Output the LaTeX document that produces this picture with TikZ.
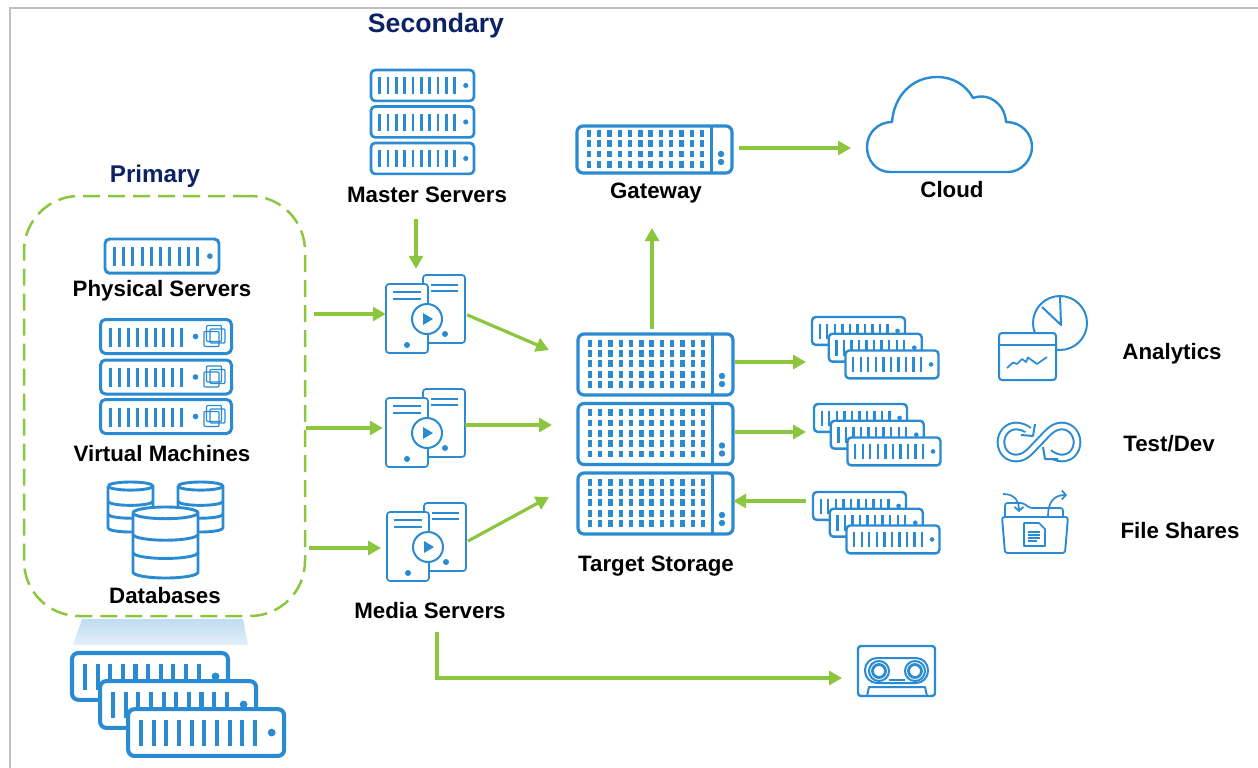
\documentclass[tikz,border=0pt]{standalone}
\usepackage{fontspec}
\setmainfont{Liberation Sans}
\usetikzlibrary{arrows.meta}
\definecolor{iconblue}{HTML}{2A8BD2}
\definecolor{flowgreen}{HTML}{8CC63F}
\definecolor{sitenavy}{HTML}{0B2265}
\definecolor{framegray}{HTML}{BFBFBF}
\tikzset{
  iconline/.style={draw=iconblue, line join=round},
  itemlabel/.style={font=\bfseries\fontsize{22.3}{24}\selectfont, anchor=base, inner sep=0pt},
  sitelabel/.style={font=\bfseries\fontsize{#1}{28}\selectfont, text=sitenavy, anchor=base, inner sep=0pt},
  iconspot/.style={inner sep=0pt},
  flowline/.style={draw=flowgreen, line width=3.2pt, -{Triangle[length=13pt,width=14pt]}},
  pics/rackunit/.style={code={
    \pgfmathsetmacro\ru{#1/100}
    \draw [iconline, fill=white, line width=\ru*2.6pt, rounded corners=\ru*4pt] (0,0) rectangle ({100*\ru},{30*\ru});
    \foreach \barno in {0,...,9}
      \draw [iconline, line width=\ru*2.6pt] ({\ru*(8.3+8.1*\barno)},{\ru*7}) -- ++(0,{\ru*16.5});
    \fill [iconblue] ({\ru*92},{\ru*15}) circle [radius=\ru*2.5pt];
  }},
  pics/rackstack/.style={code={
    \pic at (0,0) {rackunit=#1};
    \pic at ({.18*#1},{.18*#1}) {rackunit=#1};
    \pic at ({.36*#1},{.36*#1}) {rackunit=#1};
  }},
  pics/vmunit/.style={code={
    \draw [iconline, fill=white, line width=3pt, rounded corners=5pt] (0,0) rectangle (131,34);
    \foreach \barno in {0,...,8}
      \draw [iconline, line width=3pt] ({10+8.9*\barno},8) -- ++(0,19);
    \fill [iconblue] (95,17) circle [radius=2.8pt];
    \draw [iconline, line width=1.2pt, rounded corners=1pt] (106,6) rectangle (121,22);
    \draw [iconline, line width=1.2pt, rounded corners=1pt] (103.5,12) rectangle (118.5,27);
    \draw [iconline, line width=1.2pt, rounded corners=1pt] (109.5,9.5) rectangle (124.5,23.5);
  }},
  pics/storeunit/.style 2 args={code={
    \draw [iconline, fill=white, line width=3.2pt, rounded corners=6pt] (0,0) rectangle (155,#1);
    \draw [iconline, line width=3pt] (134.5,0) -- (134.5,#1);
    \pgfmathsetmacro\gridtop{#1/2-(#2-1)*5.15-0.7}
    \foreach \col in {0,...,11}
      \foreach \row in {1,...,#2}
        \fill [iconblue] ({12+10.27*\col-2.2},{\gridtop+10.3*(\row-1)-3.4}) rectangle ++(4.4,6.8);
    \fill [iconblue] (144,{#1-19}) circle [radius=3.2pt];
    \fill [iconblue] (144,{#1-11}) circle [radius=3.2pt];
  }},
  pics/playpages/.style={code={
    \draw [iconline, fill=white, line width=1.7pt, rounded corners=3pt] (37,-9) rectangle (79,59);
    \draw [iconline, line width=1.7pt] (45,1) -- (72,1) (45,7) -- (72,7);
    \fill [iconblue] (59,50) circle [radius=3pt];
    \draw [iconline, fill=white, line width=1.7pt, rounded corners=3pt] (0,0) rectangle (42,69);
    \draw [iconline, line width=1.7pt] (7,8) -- (35,8) (7,15) -- (35,15);
    \fill [iconblue] (21,61) circle [radius=3pt];
    \draw [iconline, fill=white, line width=2pt] (41,35) circle [radius=15pt];
    \fill [iconblue] (37,29) -- (37,41) -- (47,35) -- cycle;
  }},
  pics/dbcan/.style 2 args={code={
    \pgfmathsetmacro\canry{.09*#1}
    \pgfmathsetmacro\canrx{#1/2}
    \draw [iconline, fill=white, line width=2.9pt] (0,\canry) -- (0,{#2-\canry}) arc [start angle=180, end angle=360, x radius=\canrx pt, y radius=\canry pt] -- (#1,\canry) arc [start angle=0, end angle=180, x radius=\canrx pt, y radius=\canry pt];
    \draw [iconline, line width=2.9pt] (0,\canry) arc [start angle=180, end angle=360, x radius=\canrx pt, y radius=\canry pt];
    \draw [iconline, line width=2.9pt] (0,{.42*(#2-\canry)}) arc [start angle=180, end angle=360, x radius=\canrx pt, y radius=\canry pt];
    \draw [iconline, line width=2.9pt] (0,{.7*(#2-\canry)}) arc [start angle=180, end angle=360, x radius=\canrx pt, y radius=\canry pt];
  }}
}
\begin{document}
\begin{tikzpicture}[x=1pt,y=-1pt]
\useasboundingbox (0,0) rectangle (1258,768);
\draw [framegray, line width=2pt] (10,768) -- (10,8) -- (1258,8);

\node (primary) [draw=flowgreen, line width=2.5pt, dash pattern=on 17pt off 8pt, rounded corners=55pt, minimum width=281pt, minimum height=420pt] at (164.5,406) {};
\shade [top color=iconblue!30, bottom color=iconblue!13] (82,619) -- (243,619) -- (248,645) -- (73,645) -- cycle;

\node (primarylabel) [sitelabel=24.2] at (155,182) {Primary};
\node (secondarylabel) [sitelabel=26.6] at (436,33) {Secondary};

\pic at (105,239) {rackunit=114};
\node (physicallabel) [itemlabel] at (162,296) {Physical Servers};
\pic at (100.5,319.5) {vmunit};
\pic at (100.5,360) {vmunit};
\pic at (100.5,399.5) {vmunit};
\node (virtuallabel) [itemlabel] at (162,461) {Virtual Machines};
\pic at (108,482) {dbcan={45}{50}};
\pic at (178,482) {dbcan={45}{50}};
\pic at (133,507) {dbcan={65}{71}};
\node (databaselabel) [itemlabel] at (165,603) {Databases};
\pic at (72,653) {rackstack=156};

\pic at (371,70) {rackunit=103};
\pic at (371,106.5) {rackunit=103};
\pic at (371,143) {rackunit=103};
\node (masterlabel) [itemlabel] at (427,202) {Master Servers};

\node (mediaA) [iconspot, minimum width=79pt, minimum height=78pt] at (425.5,314) {};
\node (mediaB) [iconspot, minimum width=79pt, minimum height=78pt] at (425.5,428) {};
\node (mediaC) [iconspot, minimum width=79pt, minimum height=78pt] at (426.5,542) {};
\pic at (386,284) {playpages};
\pic at (386,398) {playpages};
\pic at (387,512) {playpages};
\node (medialabel) [itemlabel] at (430,618) {Media Servers};

\node (gateway) [iconspot, minimum width=155pt, minimum height=47pt] at (654.5,149.5) {};
\pic at (577,126) {storeunit={47}{4}};
\node (gatewaylabel) [itemlabel] at (656,198) {Gateway};

\node (storeA) [iconspot, minimum width=155pt, minimum height=61pt] at (655.5,364.5) {};
\node (storeB) [iconspot, minimum width=155pt, minimum height=61pt] at (655.5,434) {};
\node (storeC) [iconspot, minimum width=155pt, minimum height=61pt] at (655.5,503.5) {};
\pic at (578,334) {storeunit={61}{5}};
\pic at (578,403.5) {storeunit={61}{5}};
\pic at (578,473) {storeunit={61}{5}};
\node (storagelabel) [itemlabel] at (656,571) {Target Storage};

\draw [iconline, line width=2.4pt] (890,172) .. controls (876,172) and (867,160) .. (867,147) .. controls (867,133) and (878,122) .. (892,122) .. controls (894,96) and (912,77) .. (937,77) .. controls (953,77) and (966,85) .. (973,98) .. controls (990,92) and (1005,105) .. (1006,122) .. controls (1021,122) and (1032,133) .. (1032,147) .. controls (1032,160) and (1021,172) .. (1008,172) -- cycle;
\node (cloudlabel) [itemlabel] at (952,197) {Cloud};

\pic at (812,317) {rackstack=93};
\pic at (814,404) {rackstack=93};
\pic at (813,492) {rackstack=93};

\draw [iconline, line width=2pt] (1060,323) circle [radius=27pt];
\draw [iconline, line width=2pt] (1060,296) -- (1061,325) -- (1042,307);
\draw [iconline, fill=white, line width=2pt, rounded corners=3pt] (999,333) rectangle (1056,380);
\draw [iconline, line width=2pt] (999,345) -- (1056,345);
\draw [iconline, line width=1.7pt] (1007,368) -- (1013,362.5) -- (1017,364) -- (1022,359) -- (1026,362) -- (1028,357.5) -- (1037,364) -- (1047,357);
\node (analyticslabel) [itemlabel] at (1172,359) {Analytics};

\draw [iconline, line width=2pt, double=white, double distance=4.6pt] (1029,431) .. controls (1026,428) and (1021,426) .. (1016,426) .. controls (1007,426) and (1001,434) .. (1001,442) .. controls (1001,451) and (1007,458) .. (1016,458) .. controls (1026,458) and (1031,450) .. (1039,442) .. controls (1047,434) and (1052,426) .. (1062,426) .. controls (1071,426) and (1077,434) .. (1077,442) .. controls (1077,451) and (1071,458) .. (1062,458) .. controls (1057,458) and (1053,456) .. (1049,453);
\fill [white] (1035,425) -- (1033,436) -- (1022,435) -- cycle;
\fill [white] (1043,448) -- (1045,459) -- (1057,459) -- cycle;
\draw [iconline, line width=2pt] (1035,424) -- (1033,436) -- (1021,435);
\draw [iconline, line width=2pt] (1043,447) -- (1045,459) -- (1058,459);
\node (testlabel) [itemlabel] at (1169,451) {Test/Dev};

\draw [iconline, line width=1.7pt, rounded corners=2.5pt] (1005,517) -- (1005,503) -- (1023,503) -- (1030,508) -- (1058,508) -- (1063,508) -- (1063,517);
\draw [iconline, fill=white, line width=1.9pt, rounded corners=2.5pt] (1002,517) -- (1068,517) -- (1065,553) -- (1005,553) -- cycle;
\draw [iconline, line width=1.7pt, line join=round] (1024,523) -- (1039,523) -- (1045,529) -- (1045,546) -- (1024,546) -- cycle;
\draw [iconline, line width=1.1pt] (1028,532) -- (1040,532) (1028,535) -- (1040,535) (1028,538) -- (1040,538) (1028,541) -- (1037,541);
\draw [iconline, line width=1.7pt, -{Straight Barb[length=4pt,width=9pt]}] (1003,494) .. controls (1013,494) and (1019,499) .. (1019,512);
\draw [iconline, line width=1.7pt, -{Straight Barb[length=4pt,width=9pt]}] (1048,516) .. controls (1048,502) and (1054,495) .. (1067,495);
\node (fileshareslabel) [itemlabel] at (1180,538) {File Shares};

\node (tape) [iconspot, minimum width=77pt, minimum height=50pt] at (896.5,671) {};
\draw [iconline, line width=2.4pt, rounded corners=3pt] (858,646) rectangle (935,696);
\draw [iconline, line width=2pt, rounded corners=12pt] (865,658) rectangle (928,683);
\draw [iconline, line width=2pt] (867,696) -- (869,687) -- (925,687) -- (927,696);
\draw [iconline, line width=2.4pt] (889,680) -- (905,680);
\foreach \reelx in {879,915} {
  \draw [iconline, fill=white, line width=2pt] (\reelx,671) circle [radius=10pt];
  \draw [iconline, line width=2.8pt] (\reelx,671) circle [radius=6.5pt];
}

\coordinate (masterout) at (416,219);
\coordinate (mediaCin) at (381,548);
\coordinate (storeAin) at (549,350);
\coordinate (storeBin) at (552,425);
\coordinate (storeCin) at (549,497);
\coordinate (gatewayin) at (652,228);
\coordinate (cloudin) at (851,148);
\coordinate (stackAin) at (806,362);
\coordinate (stackBin) at (806,432);
\coordinate (stackCout) at (806,501);
\coordinate (mediaout) at (437,632);
\coordinate (tapein) at (842,678);

\draw [flowline, shorten >=6pt] (masterout) -- (masterout |- mediaA.north);
\draw [flowline, shorten <=8pt] (primary.east |- mediaA.west) -- (mediaA.west);
\draw [flowline, shorten >=3pt] (primary.east |- mediaB.west) -- (mediaB.west);
\draw [flowline, shorten <=3pt] (primary.east |- mediaCin) -- (mediaCin);
\draw [flowline, shorten <=2pt] (mediaA.east) -- (storeAin);
\draw [flowline] (mediaB.east |- storeBin) -- (storeBin);
\draw [flowline, shorten <=2pt] (mediaC.east) -- (storeCin);
\draw [flowline, shorten <=5pt] (gatewayin |- storeA.north) -- (gatewayin);
\draw [flowline, shorten <=7pt] (gateway.east |- cloudin) -- (cloudin);
\draw [flowline, shorten <=2pt] (storeA.east |- stackAin) -- (stackAin);
\draw [flowline, shorten <=2pt] (storeB.east |- stackBin) -- (stackBin);
\draw [flowline] (stackCout) -- (storeC.east |- stackCout);
\draw [flowline] (mediaout) |- (tapein);
\end{tikzpicture}
\end{document}
